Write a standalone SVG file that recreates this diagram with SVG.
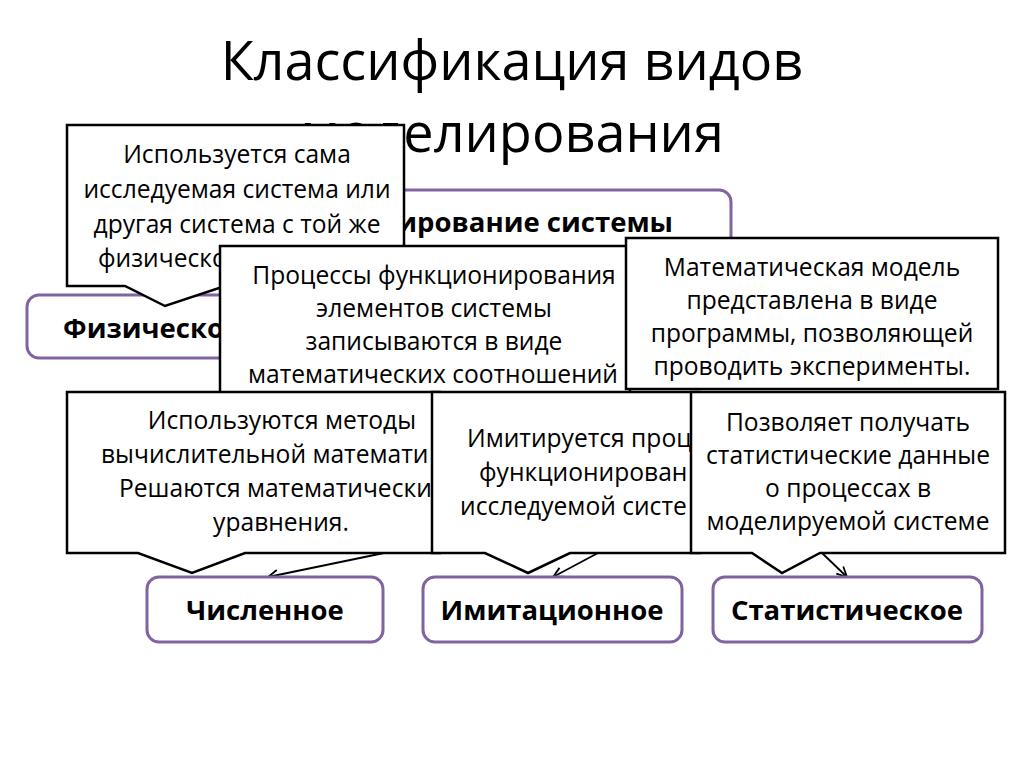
<svg xmlns="http://www.w3.org/2000/svg" width="1024" height="767" viewBox="0 0 1024 767">
<defs>
<marker id="arr" viewBox="0 0 12 12" refX="11" refY="6" markerWidth="12" markerHeight="12" markerUnits="userSpaceOnUse" orient="auto">
<path d="M1,1 L11,6 L1,11" fill="none" stroke="#000" stroke-width="1.8"/>
</marker>
<style>
.title{font-family:"Open Sans","Liberation Sans",sans-serif;font-size:54px;fill:#000}
.box{fill:#fff;stroke:#8064a2;stroke-width:3}
.bl{font-family:"Open Sans","Liberation Sans",sans-serif;font-size:27.5px;font-weight:bold;fill:#000}
.co{fill:#fff;stroke:#000;stroke-width:2.5;stroke-linejoin:miter}
.ct{font-family:"Open Sans","Liberation Sans",sans-serif;font-size:24.6px;fill:#000}
.m{text-anchor:middle}
.cn{fill:none;stroke:#000;stroke-width:1.8}
</style>
</defs>
<rect width="1024" height="767" fill="#fff"/>
<g id="title">
<text class="title m" x="512" y="80">Классификация видов</text>
<text class="title m" x="512" y="152">моделирования</text>
</g>
<g id="node-system">
<rect class="box" x="257" y="190" width="474" height="62" rx="12"/>
<text class="bl" x="673" y="232" text-anchor="end">ирование системы</text>
</g>
<g id="node-physical">
<rect class="box" x="27" y="295" width="253" height="63" rx="12"/>
<text class="bl" x="63" y="338">Физическо</text>
</g>
<g id="connectors">
<line class="cn" x1="384" y1="553" x2="268" y2="577" marker-end="url(#arr)"/>
<line class="cn" x1="598" y1="553" x2="553" y2="577" marker-end="url(#arr)"/>
<line class="cn" x1="822" y1="553" x2="847" y2="577" marker-end="url(#arr)"/>
</g>
<g id="callout-physical">
<path class="co" d="M67,125 H404 V286 H225 L165,306 L125,286 H67 Z"/>
<text class="ct m" x="237" y="163">Используется сама</text>
<text class="ct m" x="237" y="198">исследуемая система или</text>
<text class="ct m" x="237" y="233">другая система с той же</text>
<text class="ct" x="98" y="267">физическо</text>
</g>
<g id="callout-math">
<path class="co" d="M220,246 H630 V400 H220 Z"/>
<text class="ct m" x="434" y="284">Процессы функционирования</text>
<text class="ct m" x="434" y="317">элементов системы</text>
<text class="ct m" x="434" y="350">записываются в виде</text>
<text class="ct m" x="433" y="383">математических соотношений</text>
</g>
<g id="callout-sim">
<path class="co" d="M626,238 H998 V389 H626 Z"/>
<text class="ct m" x="812" y="276">Математическая модель</text>
<text class="ct m" x="812" y="309">представлена в виде</text>
<text class="ct m" x="812" y="342">программы, позволяющей</text>
<text class="ct m" x="812" y="375">проводить эксперименты.</text>
</g>
<g id="callout-numeric">
<path class="co" d="M67,392 H440 V553 H245 L192,573 L138,553 H67 Z"/>
<text class="ct m" x="282" y="429">Используются методы</text>
<text class="ct" x="101" y="463">вычислительной математи</text>
<text class="ct" x="119" y="497">Решаются математически</text>
<text class="ct m" x="281" y="531">уравнения.</text>
</g>
<g id="callout-imit">
<path class="co" d="M432,392 H700 V553 H570 L528,573 L485,553 H432 Z"/>
<text class="ct" x="467" y="447">Имитируется проц</text>
<text class="ct" x="479" y="481">функционирован</text>
<text class="ct" x="460" y="515">исследуемой систе</text>
</g>
<g id="callout-stat">
<path class="co" d="M691,392 H1005 V553 H820 L782,573 L752,553 H691 Z"/>
<text class="ct m" x="848" y="431">Позволяет получать</text>
<text class="ct m" x="848" y="464">статистические данные</text>
<text class="ct m" x="848" y="497">о процессах в</text>
<text class="ct m" x="848" y="530">моделируемой системе</text>
</g>
<g id="node-numeric">
<rect class="box" x="147" y="577" width="236" height="65" rx="12"/>
<text class="bl m" x="265" y="620">Численное</text>
</g>
<g id="node-imit">
<rect class="box" x="423" y="577" width="259" height="65" rx="12"/>
<text class="bl m" x="552" y="620">Имитационное</text>
</g>
<g id="node-stat">
<rect class="box" x="713" y="577" width="269" height="65" rx="12"/>
<text class="bl m" x="847" y="620">Статистическое</text>
</g>
</svg>
